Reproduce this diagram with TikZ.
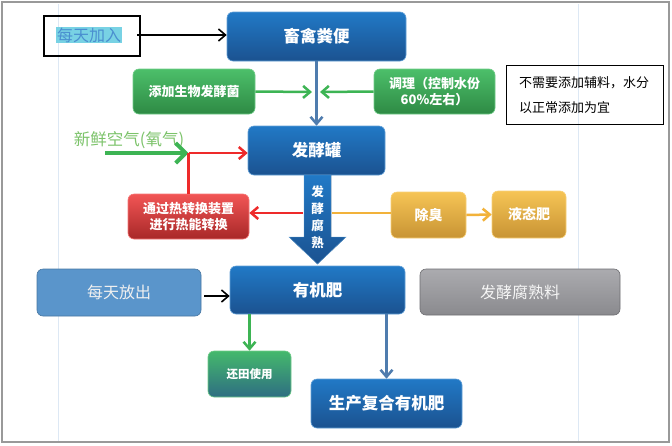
\documentclass[tikz,border=0pt]{standalone}
\usepackage{fontspec}
\newfontfamily\cjk{Noto Sans CJK SC}
\usetikzlibrary{arrows.meta,shadings}
\definecolor{bTop}{HTML}{2179C6}
\definecolor{bBot}{HTML}{1B5290}
\definecolor{gTop}{HTML}{4CBF6A}
\definecolor{gBot}{HTML}{2E8A44}
\definecolor{rTop}{HTML}{F25555}
\definecolor{rBot}{HTML}{A82828}
\definecolor{oTop}{HTML}{F6C455}
\definecolor{oBot}{HTML}{C89434}
\definecolor{grTop}{HTML}{ABABAF}
\definecolor{grBot}{HTML}{8A8A8E}
\definecolor{lightBlue}{HTML}{5A95CB}
\definecolor{cBlue}{HTML}{4F7CAE}
\definecolor{cGreen}{HTML}{3DB454}
\definecolor{cRed}{HTML}{EE2A2A}
\definecolor{cOrange}{HTML}{F2B23A}
\definecolor{airGreen}{HTML}{7CC36A}
\definecolor{hiCyan}{HTML}{78D2E4}
\definecolor{hiText}{HTML}{4A8FD0}
\tikzset{
  x=1pt,y=-1pt,
  box/.style={rounded corners=6pt, inner sep=0pt, align=center, text=white,
    font=\cjk\bfseries\fontsize{13}{16}\selectfont},
  bluebox/.style={box, top color=bTop, bottom color=bBot, draw=bTop!70!white, line width=0.6pt,
    font=\cjk\bfseries\fontsize{16.5}{18}\selectfont},
  greenbox/.style={box, top color=gTop, bottom color=gBot, draw=gTop!80!white, line width=0.6pt},
  redbox/.style={box, top color=rTop, bottom color=rBot, draw=rTop!80!white, line width=0.6pt},
  orangebox/.style={box, top color=oTop, bottom color=oBot, draw=oTop!80!white, line width=0.6pt,
    font=\cjk\bfseries\fontsize{14}{16}\selectfont},
  plainbox/.style={draw=black, line width=1.2pt, inner sep=0pt},
  tipthin/.style={-{Straight Barb[length=7pt,width=12pt]}},
  conn/.style={line width=2.5pt, tipthin},
  blackconn/.style={black, line width=1.6pt, tipthin},
}
\begin{document}
\begin{tikzpicture}
\useasboundingbox (0,0) rectangle (672,445);
\fill[white] (0,0) rectangle (672,445);
% faint guide lines
\draw[color={rgb,255:red,221;green,232;blue,244}, line width=0.8pt] (58,4) -- (58,441);
\draw[color={rgb,255:red,221;green,232;blue,244}, line width=0.8pt] (578,4) -- (578,441);
% outer frame
\draw[gray!80, line width=1.5pt] (2,2) rectangle (669,442);

% nodes
\node[plainbox, minimum width=96pt, minimum height=40pt] (in) at (92,36) {};
\node[fill=hiCyan, inner sep=1pt, text=hiText, font=\cjk\fontsize{16}{18}\selectfont] (intext) at (89,35) {每天加入};
\node[bluebox, minimum width=179pt, minimum height=49pt] (manure) at (316.5,36.5) {畜禽粪便};
\node[greenbox, minimum width=122pt, minimum height=45pt] (bact) at (194,91.5) {添加生物发酵菌};
\node[greenbox, minimum width=121pt, minimum height=45pt] (adjust) at (434.5,91.5) {调理（控制水份\\60\%左右）};
\node[plainbox, line width=1pt, minimum width=157pt, minimum height=59pt] (note) at (584.5,94.5) {};
\node[anchor=west, align=left, inner sep=0pt, font=\cjk\fontsize{13}{25}\selectfont] (notetext) at (519,95) {不需要添加辅料，水分\\以正常添加为宜};
\node[bluebox, minimum width=137pt, minimum height=49pt] (tank) at (316.5,150.5) {发酵罐};
\node[text=airGreen, inner sep=0pt, font=\cjk\fontsize{16.5}{18}\selectfont] (air) at (129,140) {新鲜空气(氧气)};
\node[redbox, minimum width=121pt, minimum height=45pt] (heat) at (188.5,216.5) {通过热转换装置\\进行热能转换};
\node[orangebox, minimum width=75pt, minimum height=46pt] (deodor) at (428.5,215) {除臭};
\node[orangebox, minimum width=74pt, minimum height=47pt] (liquid) at (529,214.5) {液态肥};
\node[box, fill=lightBlue, draw=lightBlue!80!black, line width=0.6pt, minimum width=164pt, minimum height=47pt,
  text=white!88!gray, font=\cjk\fontsize{16}{18}\selectfont] (out) at (119,292.5) {每天放出};
\node[bluebox, minimum width=175pt, minimum height=48pt] (organic) at (317.5,290) {有机肥};
\node[box, top color=grTop, bottom color=grBot, draw=grBot!80!black, line width=0.6pt, minimum width=200pt, minimum height=46pt,
  text=white!92!gray, font=\cjk\fontsize{16}{18}\selectfont] (cured) at (520,292) {发酵腐熟料};
\node[box, top color=gTop!90!teal, bottom color={rgb,255:red,46;green,110;blue,130}, draw=gTop!80!white, line width=0.6pt,
  minimum width=83pt, minimum height=46pt, font=\cjk\bfseries\fontsize{11.5}{14}\selectfont] (field) at (249.5,374) {还田使用};
\node[bluebox, minimum width=151pt, minimum height=49pt] (compound) at (386.5,403.5) {生产复合有机肥};

% fat arrow
\fill[top color=bTop, bottom color=bBot, draw=bTop!70!white, line width=0.4pt]
  (304,175) -- (331,175) -- (331,237) -- (346,237) -- (317.5,264) -- (289,237) -- (304,237) -- cycle;
\node[text=white, align=center, inner sep=0pt, font=\cjk\bfseries\fontsize{12.5}{17}\selectfont] (ferm) at (317.5,217) {发\\酵\\腐\\熟};
\coordinate (shaftL) at (303,213);
\coordinate (shaftR) at (332,213);

% connectors
\coordinate (inStart) at (137,35);
\draw[blackconn] (inStart) -- (manure.west |- inStart);
\draw[cBlue, conn] (manure.south) -- (tank.north);
\coordinate (gL) at (312,92);
\coordinate (gR) at (320,92);
\draw[cGreen, conn] (bact.east) -- (gL);
\draw[cGreen, conn] (adjust.west) -- (gR);
\coordinate (airStart) at (105,153);
\coordinate (junc) at (188.5,153);
\draw[cGreen, line width=4pt, -{Straight Barb[length=10pt,width=20pt]}] (airStart) -- (junc);
\draw[cRed, conn] (junc) -- (tank.west |- junc);
\draw[cRed, line width=2.5pt] (junc) -- (heat.north);
\draw[cRed, conn] (shaftL) -- (heat.east |- shaftL);
\draw[cOrange, line width=2.5pt] (deodor.west |- shaftR) -- (shaftR);
\draw[cOrange, conn] (deodor.east) -- (liquid.west);
\coordinate (outStart) at (204,296);
\draw[blackconn] (outStart) -- (organic.west |- outStart);
\draw[cGreen, conn] (organic.south -| field.north) -- (field.north);
\draw[cBlue, conn] (organic.south -| compound.north) -- (compound.north);
\end{tikzpicture}
\end{document}
